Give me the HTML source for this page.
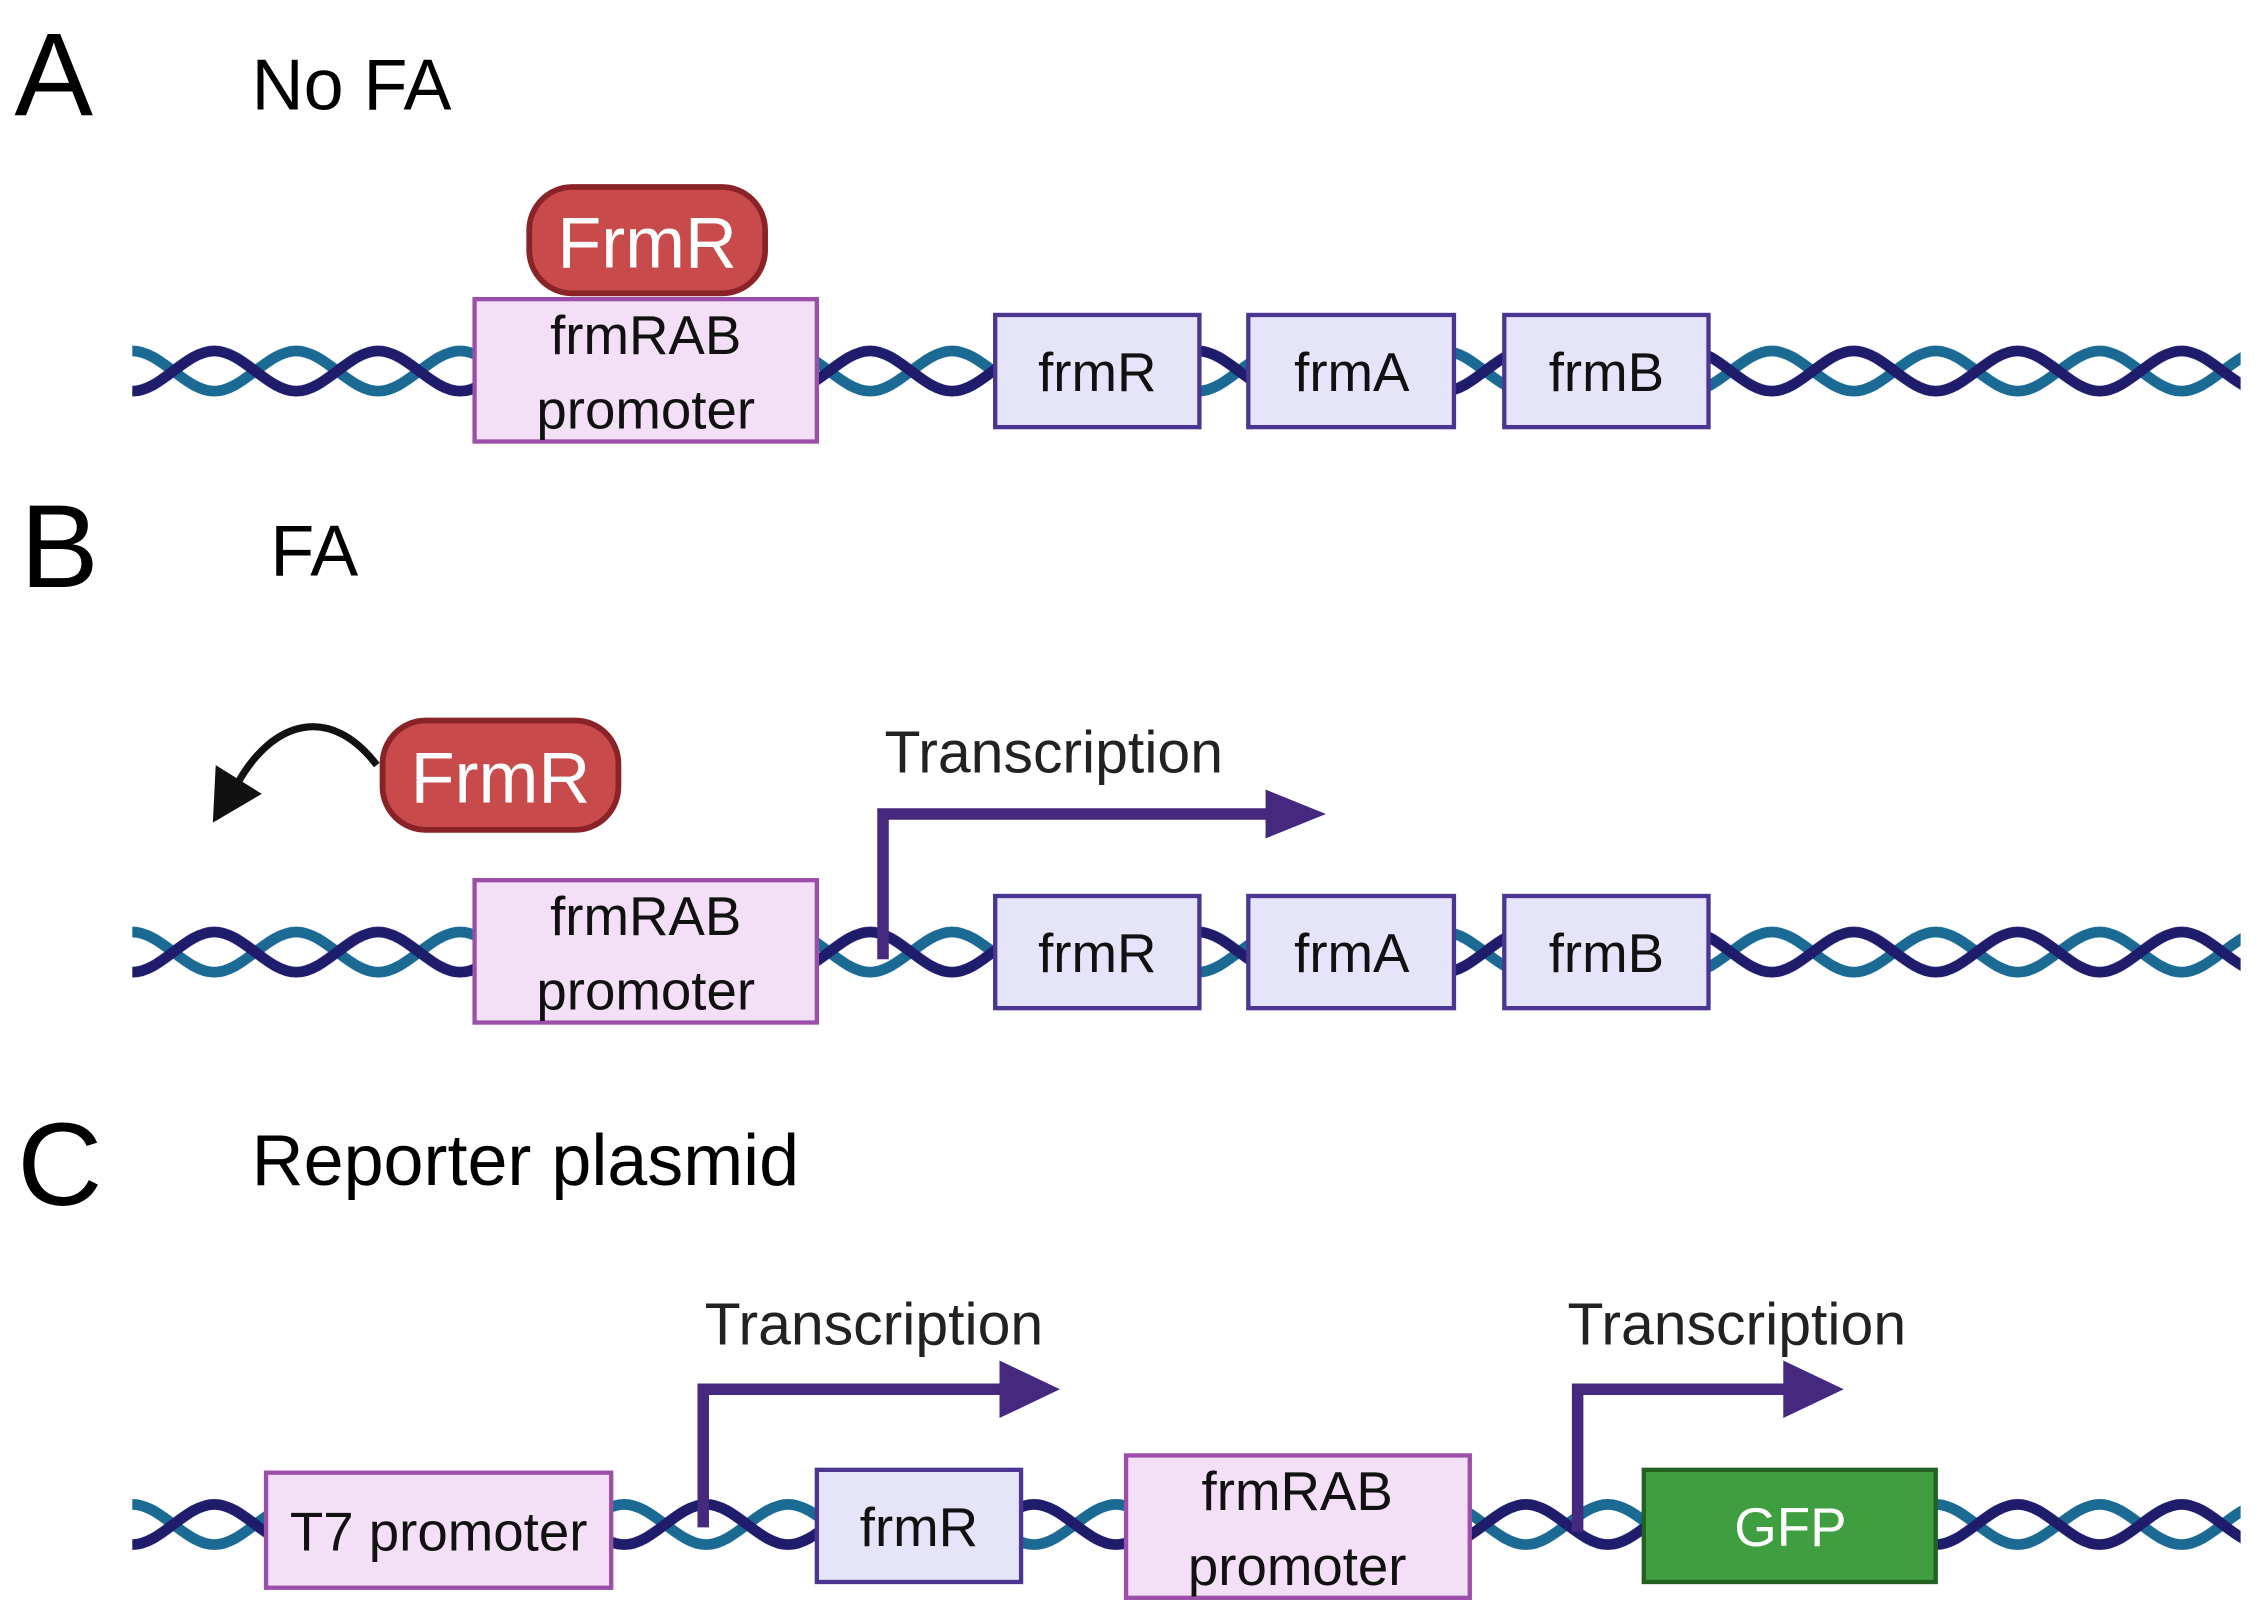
<!DOCTYPE html>
<html><head><meta charset="utf-8"><style>
html,body{margin:0;padding:0;background:#fff}
svg{display:block}
text{font-family:"Liberation Sans",sans-serif}
</style></head><body>
<svg width="2255" height="1604" viewBox="0 0 1568 1115.3" preserveAspectRatio="none" xmlns="http://www.w3.org/2000/svg">
<defs>
<pattern id="dna" patternUnits="userSpaceOnUse" width="114" height="50" x="92" y="0">
<path d="M-57,39 C-37,39 -20,11 0,11 S37,39 57,39 S94,11 114,11 S151,39 171,39" fill="none" stroke="#1a6a94" stroke-width="7.5"/>
<path d="M-57,11 C-37,11 -20,39 0,39 S37,11 57,11 S94,39 114,39 S151,11 171,11" fill="none" stroke="#1f1d6b" stroke-width="7.5"/>
</pattern>
<pattern id="dnaA" href="#dna" y="233"/>
<pattern id="dnaB" href="#dna" y="637"/>
<pattern id="dnaC" href="#dna" y="1035"/>
</defs>
<rect x="92" y="233" width="1466" height="50" fill="url(#dnaA)"/>
<rect x="92" y="637" width="1466" height="50" fill="url(#dnaB)"/>
<rect x="92" y="1035" width="1466" height="50" fill="url(#dnaC)"/>

<!-- Labels -->
<text x="10" y="80" font-size="82">A</text>
<text x="175" y="76" font-size="50">No FA</text>
<text x="14" y="408" font-size="82">B</text>
<text x="188" y="400" font-size="50">FA</text>
<text x="12" y="838" font-size="82">C</text>
<text x="175" y="824" font-size="50">Reporter plasmid</text>

<g font-size="38" text-anchor="middle" fill="#111">
<!-- A -->
<rect x="330" y="208" width="238" height="99" fill="#f3dff6" stroke="#9b4fa8" stroke-width="3"/>
<text x="449" y="246">frmRAB</text><text x="449" y="298">promoter</text>
<rect x="692" y="219" width="142" height="78" fill="#e6e4f8" stroke="#4b3593" stroke-width="3"/>
<text x="763" y="272">frmR</text>
<rect x="868" y="219" width="143" height="78" fill="#e6e4f8" stroke="#4b3593" stroke-width="3"/>
<text x="940" y="272">frmA</text>
<rect x="1046" y="219" width="142" height="78" fill="#e6e4f8" stroke="#4b3593" stroke-width="3"/>
<text x="1117" y="272">frmB</text>
<rect x="368" y="130" width="164" height="74" rx="30" fill="#c94a4a" stroke="#8a2327" stroke-width="4"/>
<text x="450" y="186" font-size="50" fill="#fff">FrmR</text>

<!-- B -->
<rect x="330" y="612" width="238" height="99" fill="#f3dff6" stroke="#9b4fa8" stroke-width="3"/>
<text x="449" y="650">frmRAB</text><text x="449" y="702">promoter</text>
<rect x="692" y="623" width="142" height="78" fill="#e6e4f8" stroke="#4b3593" stroke-width="3"/>
<text x="763" y="676">frmR</text>
<rect x="868" y="623" width="143" height="78" fill="#e6e4f8" stroke="#4b3593" stroke-width="3"/>
<text x="940" y="676">frmA</text>
<rect x="1046" y="623" width="142" height="78" fill="#e6e4f8" stroke="#4b3593" stroke-width="3"/>
<text x="1117" y="676">frmB</text>
<rect x="266" y="501" width="164" height="76" rx="30" fill="#c94a4a" stroke="#8a2327" stroke-width="4"/>
<text x="348" y="558" font-size="50" fill="#fff">FrmR</text>

<!-- C -->
<rect x="185" y="1024" width="240" height="80" fill="#f3dff6" stroke="#9b4fa8" stroke-width="3"/>
<text x="305" y="1078">T7 promoter</text>
<rect x="568" y="1022" width="142" height="78" fill="#e6e4f8" stroke="#4b3593" stroke-width="3"/>
<text x="639" y="1075">frmR</text>
<rect x="783" y="1012" width="239" height="99" fill="#f3dff6" stroke="#9b4fa8" stroke-width="3"/>
<text x="902" y="1050">frmRAB</text><text x="902" y="1102">promoter</text>
<rect x="1143" y="1022" width="203" height="78" fill="#3f9e3f" stroke="#236023" stroke-width="3"/>
<text x="1245" y="1075" fill="#fff">GFP</text>
</g>

<!-- curved arrow in B -->
<path d="M262,532 C230,490 190,500 165,545" fill="none" stroke="#111" stroke-width="5"/>
<polygon points="148,572 150,532 182,552" fill="#111"/>

<!-- Transcription arrows -->
<g fill="none" stroke="#45297e" stroke-width="8">
<path d="M614,667 V566 H885"/>
<path d="M489,1062 V966 H700"/>
<path d="M1097,1065 V966 H1245"/>
</g>
<g fill="#45297e">
<polygon points="880,549 922,566 880,583"/>
<polygon points="695,946 737,966 695,986"/>
<polygon points="1240,946 1282,966 1240,986"/>
</g>
<g font-size="41" fill="#222">
<text x="615" y="537">Transcription</text>
<text x="490" y="935">Transcription</text>
<text x="1090" y="935">Transcription</text>
</g>
</svg>
</body></html>
